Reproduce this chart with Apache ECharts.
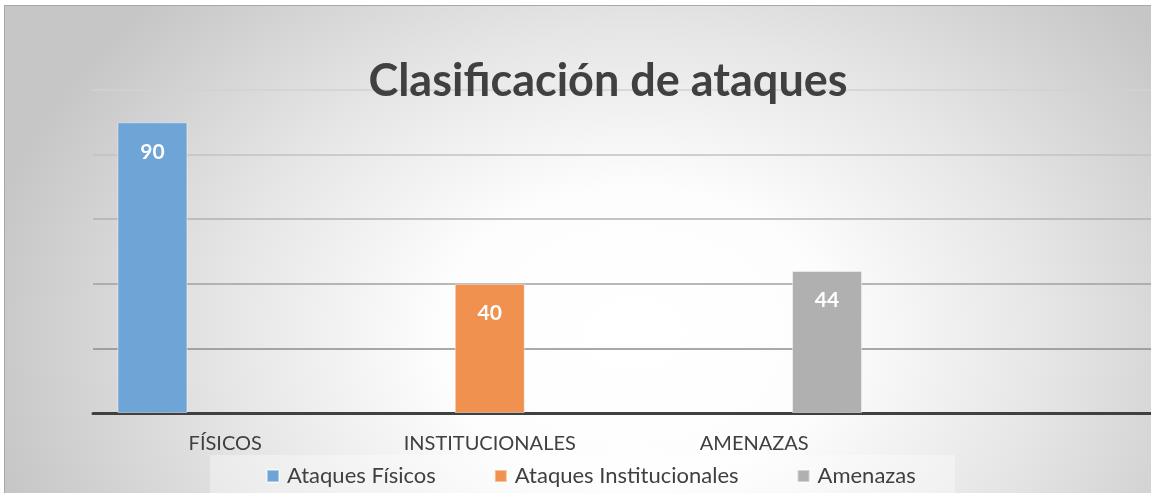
<!DOCTYPE html>
<html>
<head>
<meta charset="utf-8">
<script src="https://cdn.jsdelivr.net/npm/echarts@6/dist/echarts.min.js"></script>
<style>
html,body{margin:0;padding:0;background:#fff;width:1151px;height:493px;overflow:hidden;}
#bg{position:absolute;left:4px;top:5px;width:1147px;height:488px;border-left:1px solid #a8a8a8;border-top:1px solid #a8a8a8;
background:radial-gradient(ellipse 660px 490px at 630px 330px,#ffffff 0%,#fdfdfd 30%,#e6e6e6 62%,#c6c6c6 100%);}
#chart{position:absolute;left:0;top:0;width:1151px;height:493px;}
</style>
</head>
<body>
<div id="bg"></div>
<div id="chart"></div>
<script>
const titleText = 'Clasificación de ataques';
const categories = ['FÍSICOS', 'INSTITUCIONALES', 'AMENAZAS', ''];
const seriesNames = ['Ataques Físicos', 'Ataques Institucionales', 'Amenazas'];
const fisicos = [90, null, null, null];
const institucionales = [null, 40, null, null];
const amenazas = [null, null, 44, null];
const seriesData = [fisicos, institucionales, amenazas];
const colors = ['#6fa4d6', '#f0914f', '#b0b0b0'];

const chart = echarts.init(document.getElementById('chart'), null, {renderer: 'canvas'});
const FONT = 'Lato';
chart.setOption({
  backgroundColor: 'transparent',
  animation: false,
  title: {
    text: titleText, left: 603, top: 54, textAlign: 'center',
    textStyle: {fontFamily: FONT, fontWeight: 'bold', fontSize: 45, color: '#404040'}
  },
  graphic: [{
    type: 'rect', left: 210, top: 455, z: -1,
    shape: {width: 745, height: 40},
    style: {fill: 'rgba(255,255,255,0.35)'}
  }],
  legend: {
    left: 261, top: 460, itemWidth: 12, itemHeight: 12, itemGap: 58,
    icon: 'rect',
    textStyle: {fontFamily: FONT, fontSize: 22, color: '#404040', padding: [0, 0, 0, 3]},
    data: seriesNames
  },
  grid: {left: 93, right: 0, top: 90, bottom: 80, containLabel: false},
  xAxis: {
    type: 'category', data: categories,
    axisLine: {lineStyle: {color: '#404040', width: 3}},
    axisTick: {show: false},
    axisLabel: {fontFamily: FONT, fontSize: 20, color: '#404040', margin: 21}
  },
  yAxis: {
    type: 'value', min: 0, max: 100, interval: 20,
    axisLabel: {show: false}, axisLine: {show: false}, axisTick: {show: false},
    splitLine: {lineStyle: {width: 1.5, color: ['#999999', '#8c8c8c', '#a0a0a0', '#b0b0b0', '#c2c2c2', '#d2d2d2']}}
  },
  series: seriesData.map((d, i) => ({
    name: seriesNames[i], type: 'bar', data: d,
    barWidth: 70, barGap: '4%',
    itemStyle: {color: colors[i], borderColor: 'rgba(255,255,255,0.45)', borderWidth: 1},
    label: {show: true, position: 'insideTop', distance: 19, color: '#fff',
      fontFamily: FONT, fontWeight: 'bold', fontSize: 21}
  }))
});
</script>
</body>
</html>
